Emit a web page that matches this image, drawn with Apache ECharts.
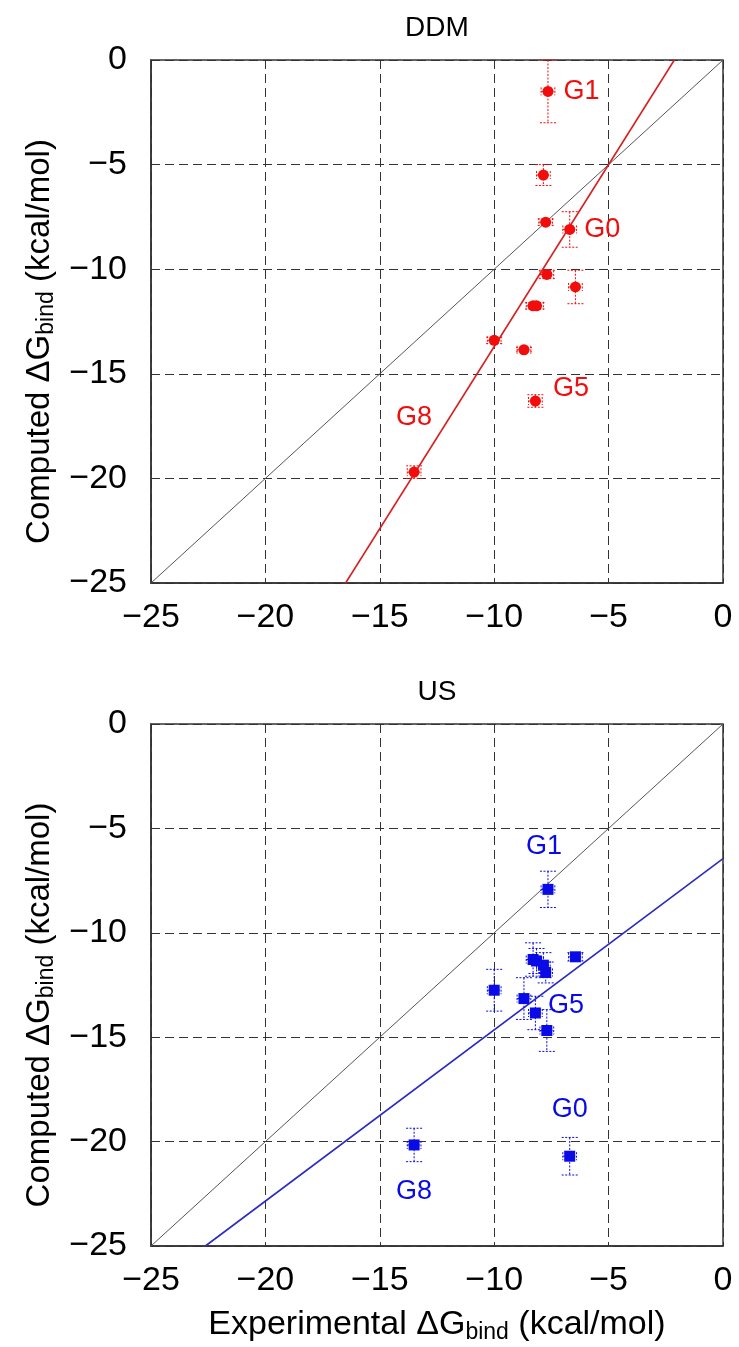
<!DOCTYPE html>
<html>
<head>
<meta charset="utf-8">
<script src="https://cdn.jsdelivr.net/npm/echarts@6/dist/echarts.min.js"></script>
<style>
html, body { margin: 0; padding: 0; background: #fff; }
#chart { width: 739px; height: 1347px; }
</style>
</head>
<body>
<div id="chart"></div>
<script>
// same guests in both panels, experimental value on x
var guestNames = ['G1', 'G0', '', '', '', '', '', '', '', 'G5', '', 'G8'];
var expDG  = [-7.65, -6.7, -6.45, -8.3, -8.15, -7.85, -7.75, -10.0, -8.7, -8.2, -7.7, -13.5];
var expErr = [0.3, 0.3, 0.3, 0.3, 0.3, 0.3, 0.3, 0.3, 0.3, 0.3, 0.3, 0.3];

// computed values, DDM panel
var ddmDG  = [-1.5, -8.1, -10.85, -11.75, -11.75, -5.5, -7.75, -13.4, -13.85, -16.3, -10.25, -19.7];
var ddmErr = [1.5, 0.85, 0.8, 0.15, 0.15, 0.5, 0.15, 0.15, 0.1, 0.3, 0.2, 0.3];

// computed values, US panel
var usDG  = [-7.92, -20.7, -11.15, -11.28, -11.35, -11.55, -11.9, -12.75, -13.15, -13.84, -14.68, -20.16];
var usErr = [0.87, 0.9, 0.2, 0.8, 0.6, 0.6, 0.5, 1.0, 1.0, 0.8, 1.0, 0.8];

// regression lines
var ddmFit = { slope: 1.74, intercept: 3.7 };
var usFit  = { slope: 0.82, intercept: -6.45 };

var axisMin = -25, axisMax = 0, axisStep = 5;

var FONT = "'Liberation Sans', Arial, Helvetica, sans-serif";

var ddmLabels = {
  G1: { position: 'right', distance: 10 },
  G0: { position: 'right', distance: 9 },
  G5: { position: 'right', distance: 12, offset: [0, -12] },
  G8: { position: 'top', distance: 36 }
};
var usLabels = {
  G1: { position: 'top', distance: 24, offset: [-4, 0] },
  G5: { position: 'right', distance: 7, offset: [0, -7] },
  G0: { position: 'top', distance: 28 },
  G8: { position: 'bottom', distance: 28 }
};

function minusFmt(v) {
  return v < 0 ? '\u2212' + Math.abs(v) : '' + v;
}

function fitEnds(f) {
  var x1 = Math.max(axisMin, (axisMin - f.intercept) / f.slope);
  var x2 = Math.min(axisMax, (axisMax - f.intercept) / f.slope);
  return [[x1, f.slope * x1 + f.intercept], [x2, f.slope * x2 + f.intercept]];
}

function errorBars(color) {
  return function (params, api) {
    var x = api.value(0), y = api.value(1), ey = api.value(2), ex = api.value(3);
    var top = api.coord([x, y + ey]), bot = api.coord([x, y - ey]);
    var lft = api.coord([x - ex, y]), rgt = api.coord([x + ex, y]);
    var st = { stroke: color, lineWidth: 1, lineDash: [2, 1.5] };
    var cap = 8, hcap = 4;
    return {
      type: 'group',
      children: [
        { type: 'line', shape: { x1: top[0], y1: top[1], x2: bot[0], y2: bot[1] }, style: st },
        { type: 'line', shape: { x1: top[0] - cap, y1: top[1], x2: top[0] + cap, y2: top[1] }, style: st },
        { type: 'line', shape: { x1: bot[0] - cap, y1: bot[1], x2: bot[0] + cap, y2: bot[1] }, style: st },
        { type: 'line', shape: { x1: lft[0], y1: lft[1], x2: rgt[0], y2: rgt[1] }, style: st },
        { type: 'line', shape: { x1: lft[0], y1: lft[1] - hcap, x2: lft[0], y2: lft[1] + hcap }, style: st },
        { type: 'line', shape: { x1: rgt[0], y1: rgt[1] - hcap, x2: rgt[0], y2: rgt[1] + hcap }, style: st }
      ]
    };
  };
}

function panelSeries(idx, comp, err, fit, color, lineColor, symbol, symbolSize, labels) {
  var pts = [], bars = [];
  for (var i = 0; i < expDG.length; i++) {
    var item = { value: [expDG[i], comp[i]] };
    var nm = guestNames[i];
    if (nm && labels[nm]) {
      var l = labels[nm];
      item.label = {
        show: true, formatter: nm, position: l.position, distance: l.distance,
        offset: l.offset || [0, 0], color: color, fontSize: 27, fontFamily: FONT
      };
    }
    pts.push(item);
    bars.push([expDG[i], comp[i], err[i], expErr[i]]);
  }
  return [
    {
      type: 'line', xAxisIndex: idx, yAxisIndex: idx, data: [[axisMin, axisMin], [axisMax, axisMax]],
      symbol: 'none', silent: true, lineStyle: { color: '#555', width: 1 }, z: 2
    },
    {
      type: 'line', xAxisIndex: idx, yAxisIndex: idx, data: fitEnds(fit),
      symbol: 'none', silent: true, lineStyle: { color: lineColor, width: 1.6 }, z: 3
    },
    {
      type: 'custom', xAxisIndex: idx, yAxisIndex: idx, data: bars,
      renderItem: errorBars(color), z: 4
    },
    {
      type: 'scatter', xAxisIndex: idx, yAxisIndex: idx, data: pts,
      symbol: symbol, symbolSize: symbolSize, itemStyle: { color: color, opacity: 1 }, z: 5
    }
  ];
}

function valueAxis(idx, isY) {
  return {
    type: 'value', gridIndex: idx, min: axisMin, max: axisMax, interval: axisStep,
    axisLine: { show: true, onZero: false, lineStyle: { color: '#333', width: 1.5 } },
    axisTick: { show: false },
    splitLine: { show: true, lineStyle: { color: '#333', width: 1, type: [9, 5] } },
    axisLabel: {
      color: '#000', fontSize: 34, fontFamily: FONT, margin: isY ? 24 : 18,
      formatter: minusFmt
    }
  };
}

var nameRich = {
  sub: { fontSize: 23, fontFamily: FONT, color: '#000', padding: [15, 0, 0, 0] }
};

var chart = echarts.init(document.getElementById('chart'));

var xAxes = [valueAxis(0, false), valueAxis(1, false)];
xAxes[1].name = 'Experimental \u0394G{sub|bind} (kcal/mol)';
xAxes[1].nameLocation = 'middle';
xAxes[1].nameGap = 60;
xAxes[1].nameTextStyle = { color: '#000', fontSize: 34, fontFamily: FONT, rich: nameRich };

var yAxes = [valueAxis(0, true), valueAxis(1, true)];
yAxes.forEach(function (a) {
  a.name = 'Computed \u0394G{sub|bind} (kcal/mol)';
  a.nameLocation = 'middle';
  a.nameGap = 92;
  a.nameTextStyle = {
    color: '#000', fontSize: 33, fontFamily: FONT, rich: nameRich,
    padding: [0, 40, 0, 0]
  };
});

var option = {
  animation: false,
  grid: [
    { left: 151, top: 60, width: 572, height: 523, show: true, borderColor: '#333', borderWidth: 1.5 },
    { left: 151, top: 724, width: 572, height: 522, show: true, borderColor: '#333', borderWidth: 1.5 }
  ],
  xAxis: xAxes,
  yAxis: yAxes,
  graphic: [
    { type: 'text', x: 437, y: 28, style: { text: 'DDM', align: 'center', verticalAlign: 'middle', fontSize: 28, fontFamily: FONT, fill: '#000' } },
    { type: 'text', x: 437, y: 692, style: { text: 'US', align: 'center', verticalAlign: 'middle', fontSize: 28, fontFamily: FONT, fill: '#000' } }
  ],
  series: [].concat(
    panelSeries(0, ddmDG, ddmErr, ddmFit, '#f20d0d', '#d62020', 'circle', 11, ddmLabels),
    panelSeries(1, usDG, usErr, usFit, '#0a0ae6', '#2a2ac4', 'rect', 11, usLabels)
  )
};

chart.setOption(option);
</script>
</body>
</html>
